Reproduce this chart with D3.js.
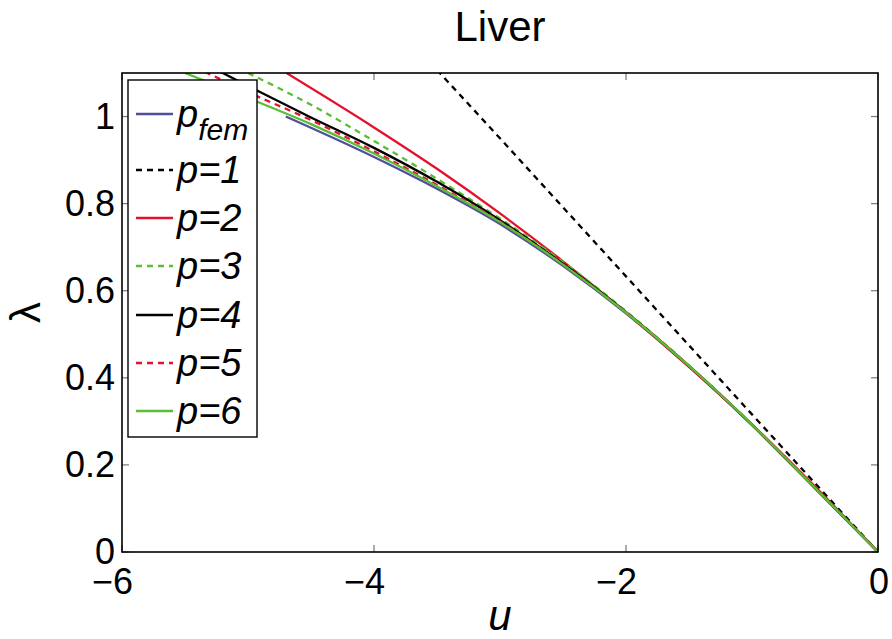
<!DOCTYPE html>
<html>
<head>
<meta charset="utf-8">
<script src="https://cdn.jsdelivr.net/npm/d3@7"></script>
<style>
  html, body { margin: 0; padding: 0; background: #fff; }
  svg { display: block; }
  text { font-family: "Liberation Sans", Arial, Helvetica, sans-serif; fill: #000; }
</style>
</head>
<body>
<svg id="chart" width="892" height="639"></svg>
<script>
// ---- data ----
const titleText = "Liver";
const xTicks = [-6, -4, -2, 0];
const yTicks = [0, 0.2, 0.4, 0.6, 0.8, 1];
const seriesNames = ["pfem", "p=1", "p=2", "p=3", "p=4", "p=5", "p=6"];

const pfem = [[-4.7,1.0],[-4,0.907],[-3.5,0.834],[-3,0.753],[-2.5,0.657],[-2,0.548],[-1.5,0.426],[-1,0.291],[-0.5,0.146],[0,0]];
const p1 = [[-3.5,1.107],[-3,0.95],[-2,0.633],[-1,0.316],[0,0]];
const p2 = [[-4.7,1.101],[-4,0.975],[-3.5,0.88],[-3,0.7775],[-2.5,0.6675],[-2,0.55],[-1.5,0.425],[-1,0.2925],[-0.5,0.15],[0,0]];
const p3 = [[-5.0,1.1],[-4.5,1.027],[-4,0.944],[-3.5,0.857],[-3,0.766],[-2.5,0.666],[-2,0.553],[-1.5,0.428],[-1,0.2925],[-0.5,0.1475],[0,0]];
const p4 = [[-5.5,1.145],[-5,1.07],[-4.5,0.998],[-4,0.928],[-3.5,0.85],[-3,0.762],[-2.5,0.662],[-2,0.551],[-1.5,0.4275],[-1,0.2925],[-0.5,0.1475],[0,0]];
const p5 = [[-5.5,1.125],[-5,1.056],[-4.5,0.992],[-4,0.92],[-3.5,0.843],[-3,0.759],[-2.5,0.66],[-2,0.55],[-1.5,0.4275],[-1,0.2925],[-0.5,0.1475],[0,0]];
const p6 = [[-5.5,1.1],[-5,1.0425],[-4.5,0.9825],[-4,0.915],[-3.5,0.84],[-3,0.7575],[-2.5,0.66],[-2,0.55],[-1.5,0.4275],[-1,0.2925],[-0.5,0.1475],[0,0]];

// ---- styles ----
const styles = [
  {data: pfem, color: "#4f4f9e", dash: null,  curve: d3.curveMonotoneX},
  {data: p1,   color: "#000000", dash: "6,5", curve: d3.curveLinear},
  {data: p2,   color: "#e3112d", dash: null,  curve: d3.curveMonotoneX},
  {data: p3,   color: "#5bbd36", dash: "6,5", curve: d3.curveMonotoneX},
  {data: p4,   color: "#000000", dash: null,  curve: d3.curveMonotoneX},
  {data: p5,   color: "#e3112d", dash: "6,5", curve: d3.curveMonotoneX},
  {data: p6,   color: "#5bbd36", dash: null,  curve: d3.curveMonotoneX}
];

const svg = d3.select("#chart");
const L = 122, R = 878, T = 73, B = 552;
const x = d3.scaleLinear().domain([-6, 0]).range([L, R]);
const y = d3.scaleLinear().domain([0, 1.1]).range([B, T]);

svg.append("defs").append("clipPath").attr("id", "clip")
  .append("rect").attr("x", L).attr("y", T).attr("width", R - L).attr("height", B - T);

// title
svg.append("text").attr("x", (L + R) / 2).attr("y", 41)
  .attr("text-anchor", "middle").style("font-size", "42px").text(titleText);

// ticks (inward, all four sides)
const tickLen = 7;
const tickG = svg.append("g").attr("stroke", "#777").attr("stroke-width", 1.2);
xTicks.forEach(t => {
  tickG.append("line").attr("x1", x(t)).attr("x2", x(t)).attr("y1", B).attr("y2", B - tickLen);
  tickG.append("line").attr("x1", x(t)).attr("x2", x(t)).attr("y1", T).attr("y2", T + tickLen);
});
yTicks.forEach(t => {
  tickG.append("line").attr("x1", L).attr("x2", L + tickLen).attr("y1", y(t)).attr("y2", y(t));
  tickG.append("line").attr("x1", R).attr("x2", R - tickLen).attr("y1", y(t)).attr("y2", y(t));
});

// tick labels
xTicks.forEach(t => {
  svg.append("text").attr("x", x(t) + 11).attr("y", 594)
    .attr("text-anchor", "end").style("font-size", "36px")
    .text(t < 0 ? "\u2212" + Math.abs(t) : String(t));
});
yTicks.forEach(t => {
  svg.append("text").attr("x", 115).attr("y", y(t) + 12)
    .attr("text-anchor", "end").style("font-size", "36px")
    .text(String(t));
});

// series
const lineGen = d3.line().x(d => x(d[0])).y(d => y(d[1]));
const plot = svg.append("g").attr("clip-path", "url(#clip)");
styles.forEach(s => {
  plot.append("path").datum(s.data)
    .attr("fill", "none").attr("stroke", s.color).attr("stroke-width", 2.3)
    .attr("stroke-dasharray", s.dash)
    .attr("d", lineGen.curve(s.curve));
});

// axes box
svg.append("rect").attr("x", L).attr("y", T).attr("width", R - L).attr("height", B - T)
  .attr("fill", "none").attr("stroke", "#000").attr("stroke-width", 1.6);

// axis labels
svg.append("text").attr("x", (L + R) / 2).attr("y", 630)
  .attr("text-anchor", "middle").style("font-size", "42px").style("font-style", "italic").text("u");
svg.append("text").attr("transform", `translate(40, ${(T + B) / 2}) rotate(-90)`)
  .attr("text-anchor", "middle").style("font-size", "42px").text("\u03bb");

// legend
const lg = svg.append("g");
lg.append("rect").attr("x", 128).attr("y", 80).attr("width", 129).attr("height", 357)
  .attr("fill", "#fff").attr("stroke", "#000").attr("stroke-width", 1.4);
const legendY = [114, 170, 218, 266, 315, 363, 411];
styles.forEach((s, i) => {
  lg.append("line").attr("x1", 136).attr("x2", 173).attr("y1", legendY[i]).attr("y2", legendY[i])
    .attr("stroke", s.color).attr("stroke-width", 2.3).attr("stroke-dasharray", s.dash);
  if (i === 0) {
    const t = lg.append("text").attr("x", 177).attr("y", legendY[i] + 13)
      .style("font-size", "38px").style("font-style", "italic");
    t.append("tspan").text("p");
    t.append("tspan").attr("dy", 13).style("font-size", "30px").text("fem");
  } else {
    lg.append("text").attr("x", 177).attr("y", legendY[i] + 13)
      .style("font-size", "38px").style("font-style", "italic").text(seriesNames[i]);
  }
});
</script>
</body>
</html>
